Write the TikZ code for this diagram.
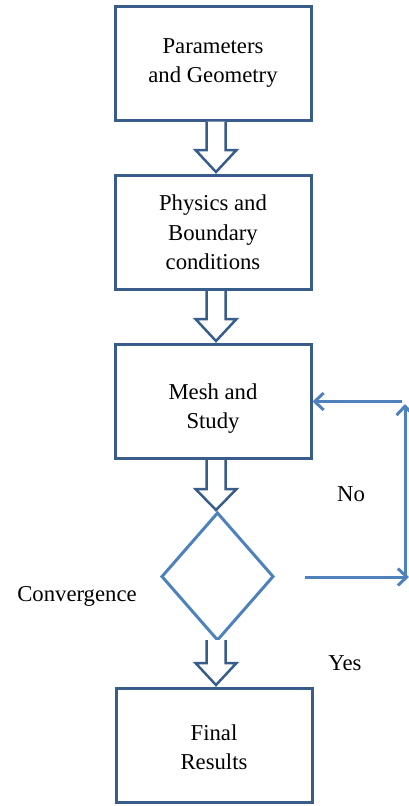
\documentclass[tikz,border=0pt]{standalone}
\usepackage{fontspec}
\setmainfont{Liberation Serif}
\usetikzlibrary{shapes.geometric,arrows.meta,calc}
\definecolor{boxblue}{RGB}{56,93,138}
\definecolor{lineblue}{RGB}{79,129,189}
\newcommand\blockarr[3]{% #1 from, #2 to, #3 gap above target
  \draw[barrow] let \p1=(#1.south), \p2=(#2.north) in
    (206.5pt,\y1) -- (206.5pt,\y2+24pt) -- (195.5pt,\y2+24pt) -- (216pt,\y2+#3) --
    (236.5pt,\y2+24pt) -- (225.5pt,\y2+24pt) -- (225.5pt,\y1);}
\begin{document}
\begin{tikzpicture}[x=1pt,y=-1pt,
  stepbox/.style={draw=boxblue,line width=3pt,minimum width=196pt,minimum height=114pt,
    align=center,font=\fontsize{22.7}{29.5}\selectfont,inner sep=0pt},
  decision/.style={diamond,draw=lineblue,line width=3pt,minimum width=111pt,
    minimum height=127pt,inner sep=0pt,outer sep=0pt},
  barrow/.style={draw=boxblue,line width=2.5pt,fill=white,line join=miter},
  fb/.style={draw=lineblue,line width=3pt,-{Straight Barb[length=9pt,width=17pt]}},
  lbl/.style={font=\fontsize{22.7}{29.5}\selectfont,inner sep=0pt}]
\useasboundingbox (0,0) rectangle (409,806);
\node[stepbox] (geo) at (213,63) {Parameters\\and Geometry};
\node[stepbox] (phys) at (213,232.5) {Physics and\\Boundary\\conditions};
\node[stepbox] (mesh) at (213,401.5) {\rule{0pt}{30pt}Mesh and\\Study};
\node[decision] (dia) at (217.5,576.5) {};
\node[stepbox] (res) at (214,745.5) {\rule{0pt}{19pt}Final\\Results};
\blockarr{geo}{phys}{2pt}
\blockarr{phys}{mesh}{2pt}
\blockarr{mesh}{dia}{3pt}
\blockarr{dia}{res}{2pt}
\coordinate (fbA) at (305,577);
\coordinate (fbB) at (409,577);
\coordinate (fbC) at (405,578.5);
\coordinate (fbD) at (405,404);
\coordinate (fbE) at (402,401.5);
\draw[fb] (fbA) -- (fbB);
\draw[fb] (fbC) -- (fbD);
\draw[fb] (fbE) -- (mesh.east);
\node[lbl] (no) at (351,494) {No};
\node[lbl] (conv) at (77,596) {Convergence};
\node[lbl] (yes) at (345,663) {Yes};
\end{tikzpicture}
\end{document}
